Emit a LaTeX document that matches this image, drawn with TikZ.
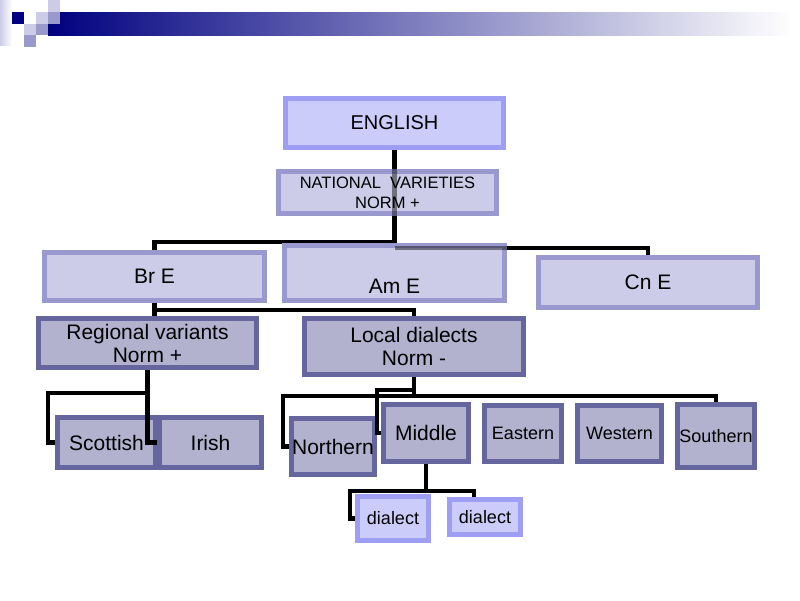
\documentclass[tikz,border=0pt]{standalone}
\usepackage{fontspec}
\setmainfont{Liberation Sans}
\usetikzlibrary{backgrounds}
\definecolor{hdrnavy}{rgb}{0.00,0.00,0.50}
\definecolor{hdrpale}{rgb}{0.80,0.80,0.91}
\definecolor{hdrmid}{rgb}{0.60,0.60,0.80}
\definecolor{engfill}{rgb}{0.80,0.80,0.98}
\definecolor{engline}{rgb}{0.62,0.62,0.96}
\definecolor{natfill}{rgb}{0.80,0.80,0.91}
\definecolor{natline}{rgb}{0.60,0.60,0.81}
\definecolor{regfill}{rgb}{0.70,0.70,0.81}
\definecolor{regline}{rgb}{0.40,0.40,0.62}
\newcommand{\szbig}{\fontsize{21}{23}\selectfont}
\newcommand{\szeng}{\fontsize{20}{22}\selectfont}
\newcommand{\sznat}{\fontsize{16.5}{20}\selectfont}
\newcommand{\szsmall}{\fontsize{18}{20}\selectfont}
\tikzset{
  brightbox/.style={draw=engline, fill=engfill, line width=5pt, inner sep=0pt, align=center},
  natbox/.style={draw=natline, fill=natfill, line width=5pt, inner sep=0pt, align=center},
  regbox/.style={draw=regline, fill=regfill, line width=5pt, inner sep=0pt, align=center},
  link/.style={draw=black, line width=4.5pt}
}
\begin{document}
\begin{tikzpicture}[x=1pt, y=-1pt]
  \useasboundingbox (0,0) rectangle (800,600);

  % header bar
  \shade[left color=hdrnavy, right color=white] (48,12) rectangle (792,35);
  \shade[left color=hdrpale, right color=white] (0,0) rectangle (12,45);
  \fill[hdrnavy] (12,12) rectangle (24,24);
  \fill[hdrpale] (48,0) rectangle (60,12);
  \fill[hdrpale] (36,12) rectangle (48,24);
  \fill[hdrmid]  (48,12) rectangle (60,24);
  \fill[hdrpale] (24,24) rectangle (36,35);
  \fill[hdrmid]  (36,24) rectangle (48,35);
  \fill[hdrmid]  (24,35) rectangle (36,47);

  \node[brightbox, minimum width=218, minimum height=49, font=\szeng] (english) at (394.5,123) {ENGLISH};
  \node[natbox, minimum width=218, minimum height=42, font=\sznat] (national) at (387.5,192.5) {NATIONAL\ \ VARIETIES\\NORM +};

  \node[natbox, minimum width=220, minimum height=48, font=\szbig] (bre) at (154.5,276.5) {Br E};
  \node[natbox, minimum width=220, minimum height=55, font=\szbig] (ame) at (394.5,273) {\raisebox{-20pt}[0pt][0pt]{Am E}};
  \node[natbox, minimum width=219, minimum height=50, font=\szbig] (cne) at (648,282.5) {Cn E};

  \node[regbox, minimum width=218, minimum height=49, font=\szbig] (regional) at (147.5,343) {Regional variants\\Norm +};
  \node[regbox, minimum width=219, minimum height=56, font=\szbig] (local) at (414,346.5) {Local dialects\\Norm -};

  \node[regbox, minimum width=98, minimum height=50, font=\szbig] (scottish) at (106.5,442.5) {Scottish};
  \node[regbox, minimum width=102, minimum height=50, font=\szbig] (irish) at (210.5,442.5) {Irish};

  \node[regbox, minimum width=83, minimum height=56, font=\szbig] (northern) at (333,446.5) {Northern};
  \node[regbox, minimum width=85, minimum height=57, font=\szbig] (middle) at (426,433) {Middle};
  \node[regbox, minimum width=77, minimum height=56, font=\szsmall] (eastern) at (523,433.5) {Eastern};
  \node[regbox, minimum width=84, minimum height=56, font=\szsmall] (western) at (619.5,433.5) {Western};
  \node[regbox, minimum width=77, minimum height=63, font=\szsmall] (southern) at (716,436) {Southern};

  \node[brightbox, minimum width=71, minimum height=44, font=\szsmall] (dialA) at (393,518.5) {dialect};
  \node[brightbox, minimum width=71, minimum height=35, font=\szsmall] (dialB) at (485,517) {dialect};

  % trunk under the national boxes
  \coordinate (trunkL) at (394.5,242);
  \coordinate (trunkR) at (394.5,248);
  \begin{scope}[on background layer]
    \draw[link] (english.south) -- (trunkR) -| (cne.north);
    \draw[link] (trunkL) -| (bre.north);
  \end{scope}
  % parts that show through the boxes
  \draw[link, draw opacity=0.45] (national.north -| english.south) -- (national.south -| english.south);
  \draw[link, draw opacity=0.45] (trunkR) -- (trunkR -| ame.east);

  \draw[link] (bre.south) -- ++(0,7) -| (local.north);
  \draw[link] (bre.south) -- (bre.south |- regional.north);

  \coordinate (regfork) at (48,393);
  \draw[link] (regional.south) |- (regfork) |- (scottish.west);
  \draw[link] (regional.south) |- (irish.west);

  \coordinate (locfork) at (414,396);
  \coordinate (nfork) at (283,396);
  \coordinate (mfork) at (377,390);
  \draw[link] (local.south) -- (locfork) -- (nfork) |- (northern.west);
  \draw[link] (local.south) |- (mfork) |- (middle.west);
  \draw[link] (locfork) -| (southern.north);

  \coordinate (dfork) at (350,491);
  \draw[link] (middle.south) |- (dfork) |- (dialA.west);
  \draw[link] (middle.south) -- ++(0,27) -| ([xshift=-11pt]dialB.north);
\end{tikzpicture}
\end{document}
